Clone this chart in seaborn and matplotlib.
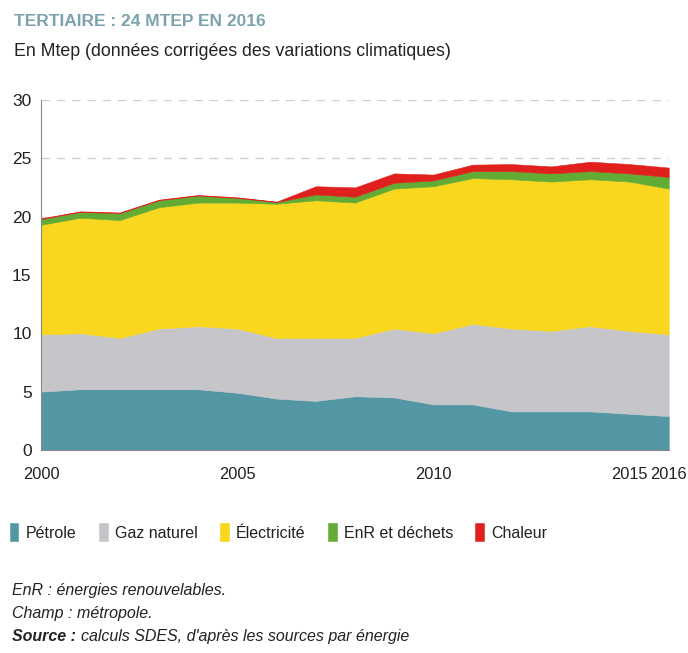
import matplotlib
matplotlib.use("Agg")
import matplotlib.pyplot as plt
import seaborn as sns

# --- Data (Mtep) --------------------------------------------------------
years = list(range(2000, 2017))
petrole = [5.0, 5.2, 5.2, 5.2, 5.2, 4.9, 4.4, 4.2, 4.6, 4.5, 3.9, 3.9, 3.3, 3.3, 3.3, 3.1, 2.9]
gaz = [4.9, 4.8, 4.4, 5.2, 5.4, 5.5, 5.2, 5.4, 5.0, 5.9, 6.1, 6.9, 7.1, 6.9, 7.3, 7.1, 7.0]
electricite = [9.4, 9.9, 10.1, 10.4, 10.6, 10.8, 11.5, 11.8, 11.6, 12.0, 12.6, 12.5, 12.8, 12.8, 12.6, 12.8, 12.5]
enr = [0.5, 0.5, 0.6, 0.6, 0.6, 0.4, 0.15, 0.5, 0.5, 0.5, 0.5, 0.6, 0.7, 0.7, 0.7, 0.7, 1.0]
chaleur = [0.05, 0.05, 0.05, 0.05, 0.05, 0.05, 0.03, 0.7, 0.8, 0.8, 0.5, 0.55, 0.6, 0.6, 0.8, 0.8, 0.8]

series_names = ["Pétrole", "Gaz naturel", "Électricité", "EnR et déchets", "Chaleur"]
colors = ["#5397a5", "#c6c6ca", "#f9d71f", "#62ab35", "#e0201d"]
year_labels = {2000: "2000", 2005: "2005", 2010: "2010", 2015: "2015", 2016: "2016"}

sns.set_style("white")
plt.rcParams["font.family"] = ["Liberation Sans", "DejaVu Sans"]
TXT = "#222222"

fig = plt.figure(figsize=(6.88, 6.53), dpi=100)
ax = fig.add_axes([0.060, 0.311, 0.912, 0.536])

polys = ax.stackplot(years, petrole, gaz, electricite, enr, chaleur,
                     colors=colors, labels=series_names, zorder=2)
for p, c in zip(polys, colors):
    p.set_edgecolor(c)
    p.set_linewidth(0.4)

ax.set_xlim(2000, 2016)
ax.set_ylim(0, 30)
ax.set_yticks(range(0, 31, 5))
ax.yaxis.grid(True, linestyle=(0, (6, 5)), color="#d0d0d0", linewidth=1.0, zorder=0)
ax.set_axisbelow(True)

ax.set_xticks(years)
ax.set_xticklabels([year_labels.get(y, "") for y in years])
ax.tick_params(axis="x", length=5, width=0.8, color="#888888", direction="out",
               labelsize=11.8, labelcolor=TXT, pad=7)
ax.tick_params(axis="y", length=5, width=0.8, color="#888888", direction="out",
               labelsize=12.5, labelcolor=TXT, pad=2)

for side in ("top", "right"):
    ax.spines[side].set_visible(False)
for side in ("left", "bottom"):
    ax.spines[side].set_color("#888888")
    ax.spines[side].set_linewidth(0.8)

# --- Titles ---------------------------------------------------------------
fig.text(0.020, 0.967, "TERTIAIRE : 24 MTEP EN 2016", color="#7ba3ae",
         fontsize=12.5, fontweight="bold", va="center", ha="left")
fig.text(0.020, 0.921, "En Mtep (données corrigées des variations climatiques)",
         color=TXT, fontsize=12.8, va="center", ha="left")

# --- Legend ---------------------------------------------------------------
leg = fig.legend(handles=polys, labels=series_names, loc="center left",
                 bbox_to_anchor=(0.014, 0.185), ncol=5, frameon=False,
                 borderpad=0, borderaxespad=0,
                 fontsize=11.5, handlelength=0.55, handleheight=1.4,
                 handletextpad=0.45, columnspacing=1.4, labelcolor=TXT)

# --- Footnotes ------------------------------------------------------------
fig.text(0.018, 0.095, "EnR : énergies renouvelables.", fontsize=11.5,
         style="italic", color=TXT, va="center")
fig.text(0.018, 0.061, "Champ : métropole.", fontsize=11.5,
         style="italic", color=TXT, va="center")
src = fig.text(0.018, 0.026, "Source :", fontsize=11.5, style="italic",
               fontweight="bold", color=TXT, va="center")
fig.canvas.draw()
bb = src.get_window_extent().transformed(fig.transFigure.inverted())
fig.text(bb.x1 + 0.006, 0.026, "calculs SDES, d'après les sources par énergie",
         fontsize=11.5, style="italic", color=TXT, va="center")

fig.savefig("out.png", dpi=100)
